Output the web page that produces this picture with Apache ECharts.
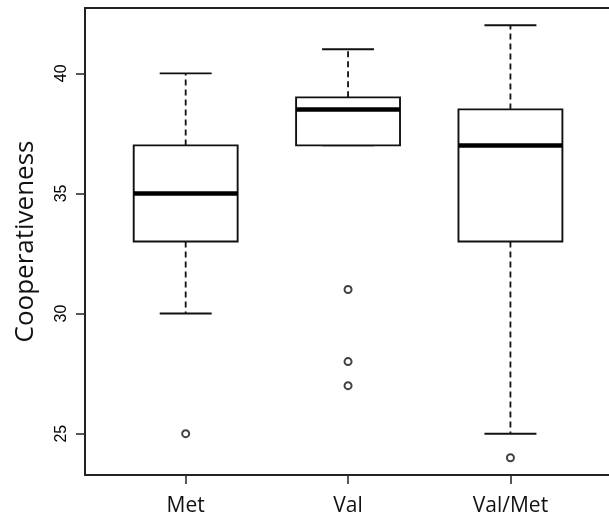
<!DOCTYPE html>
<html>
<head>
<meta charset="utf-8">
<script src="https://cdn.jsdelivr.net/npm/echarts@6/dist/echarts.min.js"></script>
<style>
html,body{margin:0;padding:0;background:#fff;}
#chart{width:609px;height:517px;}
</style>
</head>
<body>
<div id="chart"></div>
<script>
const categories = ['Met', 'Val', 'Val/Met'];
const lowerWhisker = [30, 37, 25];
const q1 = [33, 37, 33];
const median = [35, 38.5, 37];
const q3 = [37, 39, 38.5];
const upperWhisker = [40, 41, 42];
const outliers = [[25], [31, 28, 27], [24]];
const yTicks = [25, 30, 35, 40];

const boxData = categories.map((c, i) => [i + 1, lowerWhisker[i], q1[i], median[i], q3[i], upperWhisker[i]]);
const outlierData = [];
outliers.forEach((arr, i) => arr.forEach(v => outlierData.push([i + 1, v])));

const BOX_W = 0.64;
const STAPLE_W = 0.32;
const frameLine = {show: true, lineStyle: {color: '#222', width: 2}};

const chart = echarts.init(document.getElementById('chart'), null, {renderer: 'canvas'});
chart.setOption({
  animation: false,
  backgroundColor: '#ffffff',
  grid: {left: 85, top: 8, right: 0, height: 467, show: false},
  xAxis: [{
    type: 'value', min: 0.38, max: 3.607, position: 'bottom',
    splitLine: {show: false},
    axisLine: frameLine,
    axisTick: {show: true, inside: false, length: 9, customValues: [1, 2, 3], lineStyle: {color: '#222', width: 1.5}},
    axisLabel: {
      show: true, customValues: [1, 2, 3], margin: 21,
      formatter: v => categories[Math.round(v) - 1] || '',
      fontFamily: 'Open Sans', fontSize: 21, color: '#111'
    }
  }, {
    type: 'value', min: 0.38, max: 3.607, position: 'top',
    splitLine: {show: false},
    axisLine: frameLine,
    axisTick: {show: false},
    axisLabel: {show: false}
  }],
  yAxis: {
    type: 'value', min: 23.28, max: 42.72,
    splitLine: {show: false},
    axisLine: frameLine,
    axisTick: {show: true, inside: false, length: 9, customValues: yTicks, lineStyle: {color: '#222', width: 1.5}},
    axisLabel: {
      show: true, customValues: yTicks, rotate: 90, margin: 15,
      fontFamily: 'Liberation Sans', fontSize: 16, color: '#000'
    },
    name: 'Cooperativeness', nameLocation: 'middle', nameRotate: 90, nameGap: 46,
    nameTextStyle: {fontFamily: 'Open Sans', fontSize: 26, color: '#111'}
  },
  series: [
    {
      type: 'custom',
      data: boxData,
      encode: {x: 0, y: [1, 2, 3, 4, 5]},
      renderItem: function (params, api) {
        const x = api.value(0);
        const lo = api.coord([x, api.value(1)]);
        const b1 = api.coord([x, api.value(2)]);
        const md = api.coord([x, api.value(3)]);
        const b3 = api.coord([x, api.value(4)]);
        const hi = api.coord([x, api.value(5)]);
        const halfBox = (api.coord([x + BOX_W / 2, 0])[0] - api.coord([x, 0])[0]);
        const halfStaple = (api.coord([x + STAPLE_W / 2, 0])[0] - api.coord([x, 0])[0]);
        const cx = lo[0];
        const solid = {stroke: '#111', lineWidth: 1.9, fill: null};
        const dashed = {stroke: '#111', lineWidth: 1.8, lineDash: [6, 4], fill: null};
        return {
          type: 'group',
          children: [
            {type: 'line', shape: {x1: cx, y1: b3[1], x2: cx, y2: hi[1]}, style: dashed},
            {type: 'line', shape: {x1: cx, y1: b1[1], x2: cx, y2: lo[1]}, style: dashed},
            {type: 'line', shape: {x1: cx - halfStaple, y1: hi[1], x2: cx + halfStaple, y2: hi[1]}, style: solid},
            {type: 'line', shape: {x1: cx - halfStaple, y1: lo[1], x2: cx + halfStaple, y2: lo[1]}, style: solid},
            {type: 'rect', shape: {x: cx - halfBox, y: b3[1], width: 2 * halfBox, height: b1[1] - b3[1]}, style: {stroke: '#111', lineWidth: 1.9, fill: '#fff'}},
            {type: 'line', shape: {x1: cx - halfBox, y1: md[1], x2: cx + halfBox, y2: md[1]}, style: {stroke: '#000', lineWidth: 4.5}}
          ]
        };
      }
    },
    {
      type: 'scatter',
      data: outlierData,
      symbol: 'emptyCircle',
      symbolSize: 7,
      itemStyle: {color: '#111', borderColor: '#111', borderWidth: 1.6}
    }
  ]
});
</script>
</body>
</html>
